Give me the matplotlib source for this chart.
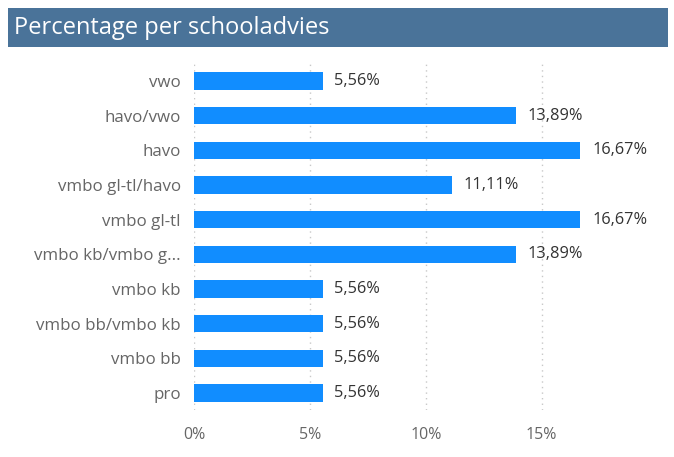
import matplotlib.pyplot as plt
from matplotlib.patches import Rectangle
import matplotlib.ticker as mticker

categories = ['vwo', 'havo/vwo', 'havo', 'vmbo gl-tl/havo', 'vmbo gl-tl',
              'vmbo kb/vmbo g...', 'vmbo kb', 'vmbo bb/vmbo kb', 'vmbo bb', 'pro']
values = [5.56, 13.89, 16.67, 11.11, 16.67, 13.89, 5.56, 5.56, 5.56, 5.56]
xticks = [0, 5, 10, 15]
title = 'Percentage per schooladvies'

plt.rcParams['font.family'] = ['Open Sans', 'DejaVu Sans']

fig = plt.figure(figsize=(6.74, 4.57), dpi=100)
W, H = 674, 457

# title banner
fig.patches.append(Rectangle((8 / W, 1 - 47 / H), 660 / W, 39 / H,
                             transform=fig.transFigure, facecolor='#4a7399',
                             edgecolor='none'))
fig.text(14 / W, 1 - 27.5 / H, title, color='white', fontsize=17,
         va='center', ha='left')

ax = fig.add_axes([194 / W, 1 - 410.3 / H, (653 - 194) / W, (410.3 - 63.7) / H])
ypos = list(range(len(categories)))
ax.barh(ypos, values, height=0.5, color='#118dff', zorder=2)
for y, v in zip(ypos, values):
    ax.text(v + 0.5, y, f'{v:.2f}%'.replace('.', ','), va='center', ha='left',
            fontsize=11.8, color='#333333')

ax.set_ylim(len(categories) - 0.5, -0.5)
ax.set_xlim(0, 19.8)
ax.set_yticks(ypos)
ax.set_yticklabels(categories, fontsize=12.2)
ax.set_xticks(xticks)
ax.xaxis.set_major_formatter(mticker.FuncFormatter(lambda x, p: f'{int(x)}%'))
ax.tick_params(length=0, labelcolor='#666666')
ax.tick_params(axis='x', labelsize=11.5, pad=12)
ax.tick_params(axis='y', pad=9.5)
ax.grid(axis='x', linestyle=(0, (1, 3)), color='#c8c8c8', linewidth=1, zorder=0)
for s in ax.spines.values():
    s.set_visible(False)

fig.savefig('out.png', dpi=100)
